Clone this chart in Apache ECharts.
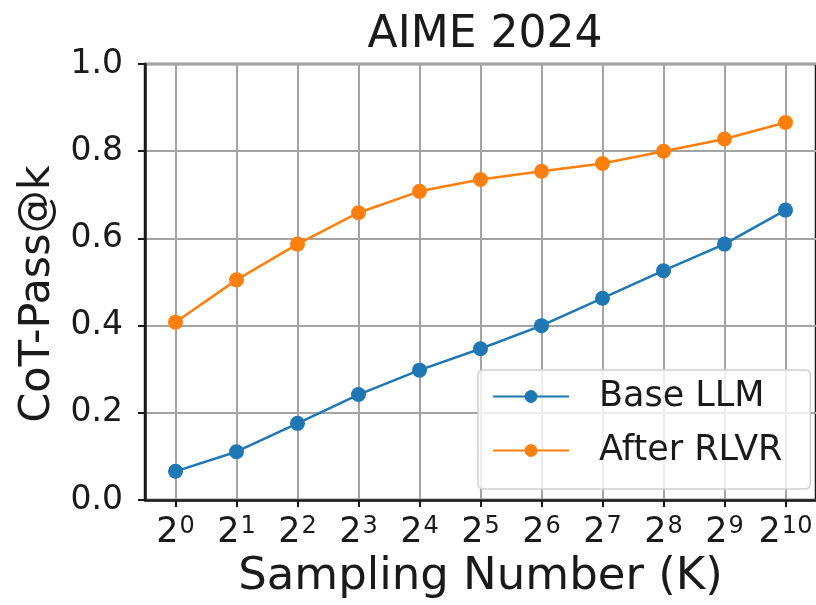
<!DOCTYPE html>
<html>
<head>
<meta charset="utf-8">
<script src="https://cdn.jsdelivr.net/npm/echarts@6/dist/echarts.min.js"></script>
<style>
  html, body { margin: 0; padding: 0; background: #fff; }
  #chart { width: 816px; height: 605px; }
</style>
</head>
<body>
<div id="chart"></div>
<script>
// Sampling budget as powers of two: K = 2^exponent
const exponents = [0, 1, 2, 3, 4, 5, 6, 7, 8, 9, 10];
const baseLLM = [0.066, 0.111, 0.176, 0.242, 0.298, 0.347, 0.400, 0.463, 0.526, 0.587, 0.665];
const afterRLVR = [0.408, 0.505, 0.587, 0.659, 0.708, 0.735, 0.754, 0.772, 0.800, 0.828, 0.866];
const yTicks = [0, 0.2, 0.4, 0.6, 0.8, 1.0];

const FONT = 'DejaVu Sans';
const INK = '#1a1a1a';

const chart = echarts.init(document.getElementById('chart'), null, { renderer: 'canvas' });

const pairs = (vals) => exponents.map((e, i) => [e, vals[i]]);

chart.setOption({
  animation: false,
  backgroundColor: '#ffffff',
  title: {
    text: 'AIME 2024',
    left: 480, top: 9,
    textAlign: 'center',
    textStyle: { fontFamily: FONT, fontSize: 44, fontWeight: 'normal', color: INK }
  },
  grid: {
    left: 145, right: -1, top: 64, bottom: 103,
    show: true, borderColor: INK, borderWidth: 2.5, backgroundColor: 'transparent'
  },
  legend: {
    orient: 'vertical',
    left: 478, top: 370,
    padding: [9, 28, 21, 14],
    itemWidth: 76, itemHeight: 16, itemGap: 19,
    backgroundColor: 'rgba(255,255,255,0.8)',
    borderColor: '#d0d0d0', borderWidth: 1.5, borderRadius: 5,
    textStyle: { fontFamily: FONT, fontSize: 35, color: INK, padding: [0, 0, 0, 25] },
    data: ['Base LLM', 'After RLVR']
  },
  xAxis: {
    type: 'value',
    min: -0.5, max: 10.5,
    name: 'Sampling Number (K)',
    nameLocation: 'middle', nameGap: 43,
    nameTextStyle: { fontFamily: FONT, fontSize: 45, color: INK },
    axisLine: { show: true, onZero: false, lineStyle: { color: INK, width: 2.5 } },
    axisTick: { show: true, length: 7, customValues: exponents, lineStyle: { color: INK, width: 2 } },
    splitLine: { show: true, lineStyle: { color: '#a4a4a4', width: 2 } },
    axisLabel: {
      customValues: exponents,
      margin: 15,
      formatter: (v) => '{b|2}{s|' + v + '}',
      rich: {
        b: { fontFamily: FONT, fontSize: 35, color: INK, lineHeight: 37, verticalAlign: 'top' },
        s: { fontFamily: FONT, fontSize: 24, color: INK, lineHeight: 26, verticalAlign: 'top', padding: [0, 0, 0, 1] }
      }
    }
  },
  yAxis: {
    type: 'value',
    min: 0, max: 1, interval: 0.2,
    name: 'CoT-Pass@k',
    nameLocation: 'middle', nameGap: 76,
    nameTextStyle: { fontFamily: FONT, fontSize: 43, color: INK, padding: [0, 24, 0, 0] },
    axisLine: { show: true, onZero: false, lineStyle: { color: INK, width: 2.5 } },
    axisTick: { show: true, length: 7, lineStyle: { color: INK, width: 2 } },
    splitLine: { show: true, lineStyle: { color: '#a4a4a4', width: 2 } },
    axisLabel: {
      margin: 22,
      fontFamily: FONT, fontSize: 33, color: INK,
      customValues: yTicks,
      formatter: (v) => v.toFixed(1)
    }
  },
  series: [
    {
      name: 'Base LLM', type: 'line',
      data: pairs(baseLLM),
      symbol: 'circle', symbolSize: 15,
      itemStyle: { color: '#1f77b4' },
      lineStyle: { color: '#1f77b4', width: 2.5 },
      z: 3
    },
    {
      name: 'After RLVR', type: 'line',
      data: pairs(afterRLVR),
      symbol: 'circle', symbolSize: 15,
      itemStyle: { color: '#ff7f0e' },
      lineStyle: { color: '#ff7f0e', width: 2.5 },
      z: 4
    }
  ]
});
</script>
</body>
</html>
